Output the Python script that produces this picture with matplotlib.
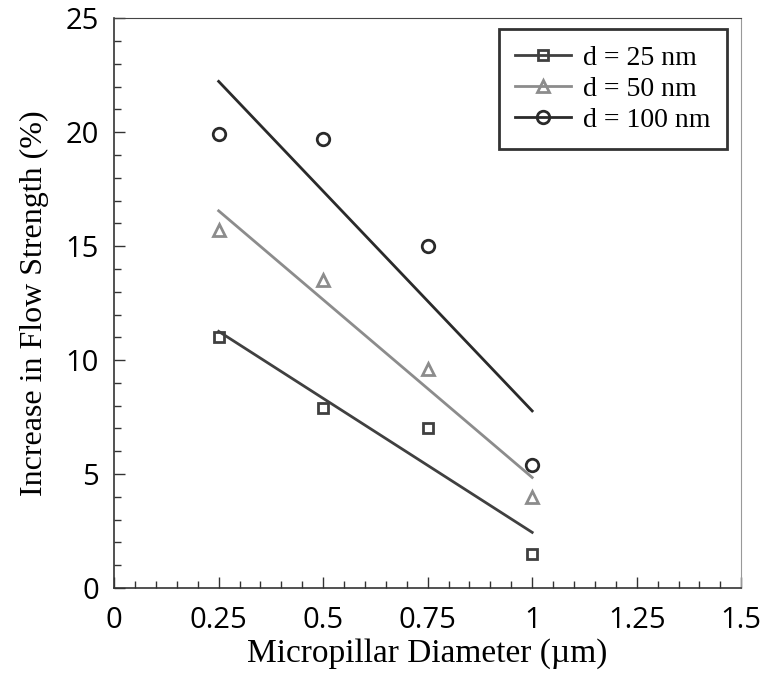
import numpy as np
import matplotlib
matplotlib.use("Agg")
import matplotlib.pyplot as plt
from matplotlib.ticker import MultipleLocator

diameter = [0.25, 0.5, 0.75, 1.0]
labels = ["d = 25 nm", "d = 50 nm", "d = 100 nm"]
strength_25 = [11.0, 7.9, 7.0, 1.5]
strength_50 = [15.7, 13.5, 9.6, 4.0]
strength_100 = [19.9, 19.7, 15.0, 5.4]

series = [strength_25, strength_50, strength_100]
colors = ["#404040", "#8c8c8c", "#2a2a2a"]
markers = ["s", "^", "o"]

fig = plt.figure(figsize=(7.61, 6.77), dpi=100)
ax = fig.add_axes([0.150, 0.1315, 0.824, 0.8415])

x = np.array(diameter)
for ys, c, m, lab in zip(series, colors, markers, labels):
    # linear fit drawn through the data range
    k, b = np.polyfit(x, ys, 1)
    ax.plot(x[[0, -1]], k * x[[0, -1]] + b, color=c, lw=2)
    ms = 7 if m == "s" else 9
    ax.plot(x, ys, linestyle="none", marker=m, markersize=ms,
            mfc="none", mec=c, mew=2)
    # legend proxy
    ax.plot([], [], color=c, lw=2, marker=m, markersize=ms,
            mfc="none", mec=c, mew=2, label=lab)

ax.set_xlim(0, 1.5)
ax.set_ylim(0, 25)
ax.xaxis.set_minor_locator(MultipleLocator(0.05))
ax.yaxis.set_major_locator(MultipleLocator(5))
ax.yaxis.set_minor_locator(MultipleLocator(1))
ax.set_xticks([0, 0.25, 0.5, 0.75, 1.0, 1.25, 1.5])
ax.set_xticklabels(["0", "0.25", "0.5", "0.75", "1", "1.25", "1.5"])
ax.tick_params(which="both", direction="in", top=False, right=False,
               labelsize=21, color="#333333")
ax.tick_params(axis="x", pad=13)
ax.tick_params(axis="y", pad=11)
ax.tick_params(which="major", length=8, width=1)
ax.tick_params(which="minor", length=5, width=1)
for lab in ax.get_xticklabels() + ax.get_yticklabels():
    lab.set_family("Open Sans")

for s in ["left", "bottom"]:
    ax.spines[s].set_color("#333333")
    ax.spines[s].set_linewidth(1.2)
ax.spines["top"].set_color("#444444")
ax.spines["right"].set_color("#999999")

ax.set_xlabel("Micropillar Diameter (\u00b5m)", family="Liberation Serif", fontsize=24, labelpad=2)
ax.set_ylabel("Increase in Flow Strength (%)", family="Liberation Serif", fontsize=23, labelpad=12)

leg = ax.legend(loc="upper right", prop={"family": "Liberation Serif", "size": 20},
                frameon=True, fancybox=False, handlelength=2.0, handletextpad=0.45,
                labelspacing=0.2, borderpad=0.6, borderaxespad=0,
                bbox_to_anchor=(0.978, 0.982))
leg.get_frame().set_edgecolor("black")
leg.get_frame().set_linewidth(2)

fig.savefig("out.png", dpi=100)
